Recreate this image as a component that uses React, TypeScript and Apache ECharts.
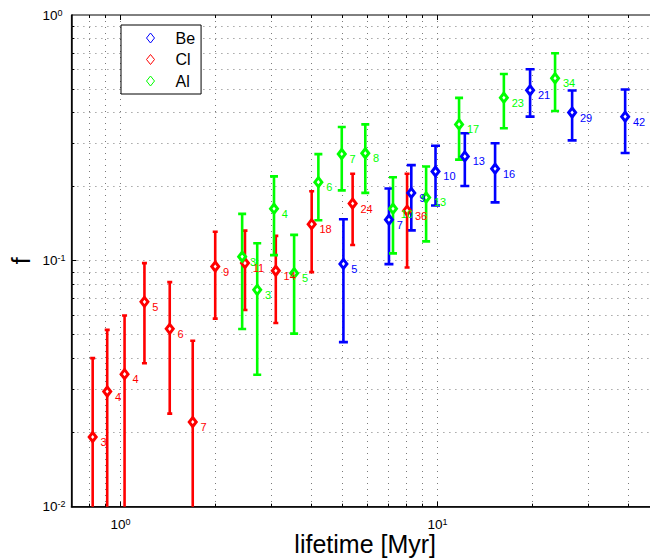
import React, { useEffect, useRef } from "react";
import * as echarts from "echarts";

// ---- data ----
const beX = [5.05, 7.03, 8.27, 9.86, 12.2, 15.2, 19.6, 26.6, 39.1];
const beF = [0.0972, 0.147, 0.189, 0.231, 0.266, 0.237, 0.494, 0.401, 0.386];
const beErr = [0.0505, 0.05, 0.056, 0.063, 0.0645, 0.064, 0.108, 0.092, 0.1115];
const beN = [5, 7, 9, 10, 13, 16, 21, 29, 42];

const clX = [0.817, 0.908, 1.03, 1.19, 1.43, 1.69, 1.99, 2.47, 3.09, 4.01, 5.4, 8.02];
const clF = [0.0192, 0.0294, 0.0346, 0.0681, 0.0529, 0.0221, 0.0948, 0.0979, 0.0911, 0.141, 0.171, 0.16];
const clErr = [0.021, 0.023, 0.0253, 0.0298, 0.029, 0.0252, 0.0366, 0.0348, 0.0352, 0.051, 0.055, 0.066];
const clN = [3, 4, 4, 5, 6, 7, 9, 11, 14, 18, 24, 36];

const alX = [2.42, 2.7, 3.05, 3.53, 4.21, 4.99, 5.92, 7.24, 9.21, 11.7, 16.2, 23.5];
const alF = [0.104, 0.0762, 0.163, 0.0891, 0.209, 0.272, 0.274, 0.163, 0.181, 0.359, 0.461, 0.553];
const alErr = [0.0512, 0.0418, 0.0575, 0.0385, 0.0627, 0.0785, 0.085, 0.0557, 0.061, 0.101, 0.1147, 0.146];
const alN = [3, 3, 4, 5, 6, 7, 8, 10, 13, 17, 23, 34];

const xGridTicks = [0.8, 0.9, 1, 2, 3, 4, 5, 6, 7, 8, 9, 10, 20, 30, 40, 50];
const yGridTicks = [0.02, 0.03, 0.04, 0.05, 0.06, 0.07, 0.08, 0.09, 0.1, 0.2, 0.3, 0.4, 0.5, 0.6, 0.7, 0.8, 0.9];

const X_MIN = 0.7;
const X_MAX = 50;
const Y_MIN = 0.01;
const Y_MAX = 1;

const FONT = "'Liberation Sans', Arial, Helvetica, sans-serif";

const isMajor = (v: number) => {
  const e = Math.log10(v);
  return Math.abs(e - Math.round(e)) < 1e-6;
};

const powLabel = (v: number) => {
  if (!isMajor(v)) return "";
  const e = Math.round(Math.log10(v));
  return `{b|10}{s|${e}}`;
};

const powRich = {
  b: { fontSize: 13.5, lineHeight: 14, color: "#000", fontFamily: FONT },
  s: { fontSize: 9, lineHeight: 6, verticalAlign: "top", color: "#000", fontFamily: FONT },
};

const crisp = (v: number) => Math.round(v - 0.5) + 0.5;

function gridSeries(axis: "x" | "y", vals: number[]) {
  return {
    type: "custom",
    silent: true,
    clip: false,
    z: 1,
    encode: { x: 0, y: 1 },
    data: vals.map((v) => (axis === "x" ? [v, 0.1] : [1, v])),
    renderItem: (params: any, api: any) => {
      const cs = params.coordSys;
      const v = api.value(axis === "x" ? 0 : 1);
      const p = api.coord(axis === "x" ? [v, 0.1] : [1, v]);
      const len = isMajor(v) ? 5 : 3;
      const grid = { stroke: "#7a7a7a", lineWidth: 1, lineDash: [1, 5] };
      const tick = { stroke: "#000", lineWidth: 1 };
      if (axis === "x") {
        const px = crisp(p[0]);
        const top = cs.y;
        const bot = cs.y + cs.height;
        return {
          type: "group",
          children: [
            { type: "line", shape: { x1: px, y1: top, x2: px, y2: bot }, style: grid },
            { type: "line", shape: { x1: px, y1: bot, x2: px, y2: bot - len }, style: tick },
            { type: "line", shape: { x1: px, y1: top, x2: px, y2: top + len }, style: tick },
          ],
        };
      }
      const py = crisp(p[1]);
      const left = cs.x;
      const right = cs.x + cs.width;
      return {
        type: "group",
        children: [
          { type: "line", shape: { x1: left, y1: py, x2: right, y2: py }, style: grid },
          { type: "line", shape: { x1: left, y1: py, x2: left + len, y2: py }, style: tick },
          { type: "line", shape: { x1: right, y1: py, x2: right - len, y2: py }, style: tick },
        ],
      };
    },
  };
}

function errSeries(name: string, xs: number[], fs: number[], errs: number[], color: string, capHalf: number) {
  return {
    type: "custom",
    name: name + " error",
    silent: true,
    clip: true,
    encode: { x: 0, y: 1 },
    data: xs.map((x, i) => [x, fs[i], errs[i]]),
    renderItem: (params: any, api: any) => {
      const x = api.value(0);
      const y = api.value(1);
      const e = api.value(2);
      const hi = api.coord([x, y + e]);
      const lo = api.coord([x, Math.max(y - e, 1e-5)]);
      const st = { stroke: color, lineWidth: 2.6 };
      const px = hi[0];
      return {
        type: "group",
        children: [
          { type: "line", shape: { x1: px, y1: hi[1], x2: px, y2: lo[1] }, style: st },
          { type: "line", shape: { x1: px - capHalf, y1: hi[1], x2: px + capHalf, y2: hi[1] }, style: st },
          { type: "line", shape: { x1: px - capHalf, y1: lo[1], x2: px + capHalf, y2: lo[1] }, style: st },
        ],
      };
    },
  };
}

function markerSeries(name: string, xs: number[], fs: number[], ns: number[], color: string) {
  return {
    type: "scatter",
    name,
    symbol: "diamond",
    symbolSize: [7, 9],
    itemStyle: { color: "#fff", borderColor: color, borderWidth: 3, opacity: 1 },
    data: xs.map((x, i) => [x, fs[i]]),
    label: {
      show: true,
      position: "right",
      distance: 3,
      offset: [0, 5],
      color,
      fontSize: 11,
      fontFamily: FONT,
      formatter: (p: any) => String(ns[p.dataIndex]),
    },
    emphasis: { disabled: true },
  };
}

const DIAMOND_ICON = "path://M4,0 L8,5 L4,10 L0,5 Z";

export default function App() {
  const ref = useRef<HTMLDivElement>(null);
  useEffect(() => {
    if (!ref.current) return;
    const chart = echarts.init(ref.current, undefined, { renderer: "svg" });
    chart.setOption({
      animation: false,
      backgroundColor: "#fff",
      textStyle: { fontFamily: FONT },
      grid: {
        left: 71.4,
        top: 15,
        right: -9,
        bottom: 51.3,
        containLabel: false,
        outerBoundsMode: "none",
        show: true,
        borderColor: "#000",
        borderWidth: 1,
        backgroundColor: "#fff",
      },
      legend: {
        data: [
          { name: "Be", icon: DIAMOND_ICON },
          { name: "Cl", icon: DIAMOND_ICON },
          { name: "Al", icon: DIAMOND_ICON },
        ],
        orient: "vertical",
        left: 121,
        top: 25,
        itemWidth: 40,
        itemHeight: 10,
        itemGap: 3.5,
        padding: [4, 6, 4, 25],
        borderColor: "#000",
        borderWidth: 1,
        backgroundColor: "#fff",
        selectedMode: false,
        itemStyle: { color: "rgba(0,0,0,0)", borderColor: "inherit", borderWidth: 1 },
        textStyle: { fontSize: 16, lineHeight: 18, color: "#000", fontFamily: FONT },
      },
      xAxis: {
        type: "log",
        logBase: 10,
        min: X_MIN,
        max: X_MAX,
        name: "lifetime [Myr]",
        nameLocation: "middle",
        nameGap: 25,
        nameMoveOverlap: false,
        nameTextStyle: { fontSize: 25, color: "#000", fontFamily: FONT },
        axisLine: { show: true, onZero: false, lineStyle: { color: "#000", width: 1.5 } },
        axisTick: { show: false },
        splitLine: { show: false },
        minorTick: { show: false },
        axisLabel: { formatter: powLabel, rich: powRich, margin: 11, hideOverlap: false },
      },
      yAxis: {
        type: "log",
        logBase: 10,
        min: Y_MIN,
        max: Y_MAX,
        name: "f",
        nameLocation: "middle",
        nameGap: 38,
        nameMoveOverlap: false,
        nameRotate: 90,
        nameTextStyle: { fontSize: 25, color: "#000", fontFamily: FONT },
        axisLine: { show: true, onZero: false, lineStyle: { color: "#000", width: 1.5 } },
        axisTick: { show: false },
        splitLine: { show: false },
        minorTick: { show: false },
        axisLabel: { formatter: powLabel, rich: powRich, margin: 29, align: "left" },
      },
      series: [
        gridSeries("x", xGridTicks),
        gridSeries("y", yGridTicks),
        errSeries("Be", beX, beF, beErr, "#0000ff", 4.5),
        markerSeries("Be", beX, beF, beN, "#0000ff"),
        errSeries("Cl", clX, clF, clErr, "#ff0000", 2.5),
        markerSeries("Cl", clX, clF, clN, "#ff0000"),
        errSeries("Al", alX, alF, alErr, "#00ff00", 4),
        markerSeries("Al", alX, alF, alN, "#00ff00"),
      ],
    });
    return () => chart.dispose();
  }, []);
  return (
    <div
      ref={ref}
      style={{ position: "fixed", left: 0, top: 0, width: 650, height: 558, background: "#fff" }}
    />
  );
}
